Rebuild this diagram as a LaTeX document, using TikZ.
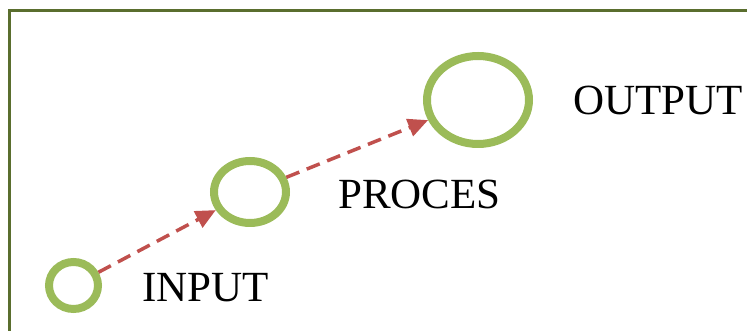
\documentclass[tikz,border=0pt]{standalone}
\usepackage{fontspec}
\setmainfont{Liberation Serif}
\usetikzlibrary{shapes.geometric,arrows.meta}
\definecolor{ringgreen}{HTML}{9BBB59}
\definecolor{flowred}{HTML}{C0504D}
\definecolor{framegreen}{HTML}{5A6E2E}
\begin{document}
\begin{tikzpicture}[x=1pt, y=1pt,
  ring/.style={ellipse, draw=ringgreen, line width=8pt, inner sep=0pt},
  flow/.style={-{Triangle[length=20pt,width=18pt]}, flowred, line width=3.5pt, dash pattern=on 14pt off 8pt},
  lbl/.style={anchor=base west, inner sep=0pt, font=\fontsize{43}{50}\selectfont}]
\useasboundingbox (0,0) rectangle (747,331);
\draw [framegreen, line width=3pt] (9.5,-10) |- (760,320);
\node [ring, minimum width=49pt, minimum height=47pt] (input) at (73.5,45.5) {};
\node [ring, minimum width=72pt, minimum height=62pt] (proces) at (250,139) {};
\node [ring, minimum width=102pt, minimum height=88pt] (output) at (478,231) {};
\draw [flow] (input) -- (proces);
\draw [flow] (proces) -- (output);
\node [lbl] (inputlbl) at (142,29) {INPUT};
\node [lbl] (proceslbl) at (338,122) {PROCES};
\node [lbl] (outputlbl) at (573,216) {OUTPUT};
\end{tikzpicture}
\end{document}
